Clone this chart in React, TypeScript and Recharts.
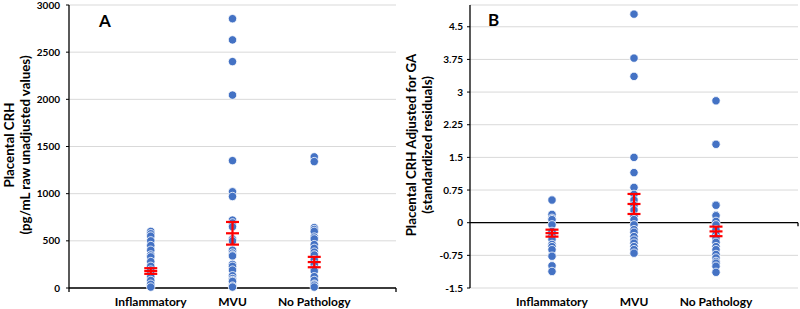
import React from "react";
import {
  ScatterChart,
  Scatter,
  XAxis,
  YAxis,
  CartesianGrid,
  ReferenceLine,
} from "recharts";

// ---- categories ----
const categories = ["Inflammatory", "MVU", "No Pathology"];

// ---- Panel A: raw placental CRH (pg/mL) ----
const inflA = [600, 575, 550, 500, 450, 400, 350, 330, 280, 230, 190, 150, 120, 80, 40, 10];
const mvuA = [2855, 2630, 2400, 2045, 1350, 1020, 970, 720, 690, 650, 520, 500, 400, 370, 350, 340, 250, 230, 190, 130, 100, 80, 70, 20, 10];
const noPathA = [1390, 1340, 640, 620, 600, 540, 520, 460, 420, 380, 350, 300, 250, 200, 180, 120, 80, 40, 30, 10];
const meansA = [180, 580, 275];
const semA = [30, 120, 55];
const ticksA = [0, 500, 1000, 1500, 2000, 2500, 3000];

// ---- Panel B: standardized residuals ----
const inflB = [0.52, 0.19, 0.1, 0.07, -0.05, -0.2, -0.3, -0.38, -0.5, -0.55, -0.62, -0.77, -0.99, -1.12];
const mvuB = [4.79, 3.78, 3.36, 1.5, 1.15, 0.81, 0.65, 0.52, 0.4, 0.29, 0.15, 0.07, -0.05, -0.16, -0.22, -0.32, -0.4, -0.47, -0.55, -0.62, -0.7];
const noPathB = [2.8, 1.8, 0.41, 0.4, 0.18, 0.16, 0.03, -0.05, -0.16, -0.27, -0.35, -0.45, -0.55, -0.62, -0.73, -0.81, -0.89, -0.93, -1.0, -1.14];
const meansB = [-0.24, 0.43, -0.2];
const semB = [0.08, 0.23, 0.11];
const ticksB = [-1.5, -0.75, 0, 0.75, 1.5, 2.25, 3, 3.75, 4.5];
const tickLabelsB = ["-1.5", "-0.75", "0", "0.75", "1.5", "2.25", "3", "3.75", "4.5"];

const FONT = "Lato, 'Open Sans', sans-serif";
const BLUE = "#4472C4";
const RED = "#FF0000";

const toPoints = (groups: number[][]) =>
  groups.flatMap((g, i) => g.map((v) => ({ x: i + 1, y: v })));
const toMeans = (m: number[]) => m.map((v, i) => ({ x: i + 1, y: v }));
const toBar = (m: number[], e: number[], i: number) => [
  { x: i + 1, y: m[i] - e[i] },
  { x: i + 1, y: m[i] + e[i] },
];

const Dot = (props: any) => {
  const { cx, cy } = props;
  if (cx == null || cy == null) return null;
  return <circle cx={cx} cy={cy} r={4.2} fill={BLUE} stroke="#ffffff" strokeWidth={0.8} />;
};

const Cap = (props: any) => {
  const { cx, cy } = props;
  if (cx == null || cy == null) return null;
  return <line x1={cx - 6.5} x2={cx + 6.5} y1={cy} y2={cy} stroke={RED} strokeWidth={2.2} />;
};

const makeXTick = (withEndTicks: boolean) => (props: any) => {
  const { x, y, payload } = props;
  const v = payload.value;
  if (v === 0 || v === 4) {
    if (!withEndTicks) return <g />;
    return <line x1={x} x2={x} y1={y} y2={y + 4} stroke="#000" strokeWidth={1.3} />;
  }
  return (
    <text x={x} y={y + 18} textAnchor="middle" fontFamily={FONT} fontWeight="bold" fontSize={12} fill="#000">
      {categories[v - 1]}
    </text>
  );
};

const yTickStyle = { fontFamily: FONT, fontWeight: "bold" as const, fontSize: 10, fill: "#000" };

const renderBars = (m: number[], e: number[]) => [
  ...[0, 1, 2].map((i) => (
    <Scatter
      key={"bar" + i}
      data={toBar(m, e, i)}
      shape={Cap}
      line={{ stroke: RED, strokeWidth: 2.2 }}
      lineType="joint"
      isAnimationActive={false}
    />
  )),
  <Scatter key="mean" data={toMeans(m)} shape={Cap} isAnimationActive={false} />,
];

function PanelA() {
  const pts = toPoints([inflA, mvuA, noPathA]);
  return (
    <ScatterChart width={400} height={309} margin={{ top: 5, right: 4, bottom: 0, left: 0 }}>
      <CartesianGrid vertical={false} stroke="#D9D9D9" strokeWidth={1} />
      <XAxis
        type="number"
        dataKey="x"
        domain={[0, 4]}
        ticks={[0, 1, 2, 3, 4]}
        height={21}
        tickSize={0}
        tickMargin={0}
        tickLine={false}
        axisLine={{ stroke: "#000", strokeWidth: 1.3 }}
        tick={makeXTick(true)}
        interval={0}
      />
      <YAxis
        type="number"
        dataKey="y"
        domain={[0, 3000]}
        ticks={ticksA}
        width={69}
        tickSize={3}
        tickMargin={6}
        axisLine={{ stroke: "#000", strokeWidth: 1.3 }}
        tickLine={{ stroke: "#000", strokeWidth: 1 }}
        tick={yTickStyle}
        interval={0}
      />
      <Scatter data={pts} shape={Dot} isAnimationActive={false} />
      {renderBars(meansA, semA)}
    </ScatterChart>
  );
}

function PanelB() {
  const pts = toPoints([inflB, mvuB, noPathB]);
  return (
    <ScatterChart width={400} height={309} margin={{ top: 5, right: 2, bottom: 0, left: 0 }}>
      <CartesianGrid vertical={false} stroke="#D9D9D9" strokeWidth={1} />
      <XAxis
        type="number"
        dataKey="x"
        domain={[0, 4]}
        ticks={[0, 1, 2, 3, 4]}
        height={21}
        tickSize={0}
        tickMargin={0}
        tickLine={false}
        axisLine={false}
        tick={makeXTick(false)}
        interval={0}
      />
      <YAxis
        type="number"
        dataKey="y"
        domain={[-1.5, 5.0]}
        ticks={ticksB}
        width={70}
        tickSize={3}
        tickMargin={4}
        axisLine={{ stroke: "#000", strokeWidth: 1.3 }}
        tickLine={{ stroke: "#000", strokeWidth: 1 }}
        tick={yTickStyle}
        tickFormatter={(v: number) => tickLabelsB[ticksB.indexOf(v)] ?? String(v)}
        interval={0}
        allowDataOverflow
      />
      <ReferenceLine y={0} stroke="#000" strokeWidth={1.3} />
      <ReferenceLine
        segment={[
          { x: 4, y: 0 },
          { x: 4, y: -0.08 },
        ]}
        stroke="#000"
        strokeWidth={1.3}
      />
      <Scatter data={pts} shape={Dot} isAnimationActive={false} />
      {renderBars(meansB, semB)}
    </ScatterChart>
  );
}

export default function App() {
  const titleStyle = { fontFamily: FONT, fontWeight: "bold" as const, fontSize: 13.3, fill: "#000" };
  return (
    <div style={{ position: "absolute", left: 0, top: 0, width: 800, height: 309, background: "#fff" }}>
      <div style={{ position: "absolute", left: 0, top: 0 }}>
        <PanelA />
      </div>
      <div style={{ position: "absolute", left: 400, top: 0 }}>
        <PanelB />
      </div>
      <svg width={800} height={309} style={{ position: "absolute", left: 0, top: 0, pointerEvents: "none" }}>
        <text x={99} y={27} fontFamily={FONT} fontWeight="bold" fontSize={17} fill="#000">A</text>
        <text x={488} y={26} fontFamily={FONT} fontWeight="bold" fontSize={17} fill="#000">B</text>
        <text transform="translate(14,145) rotate(-90)" textAnchor="middle" {...titleStyle}>Placental CRH</text>
        <text transform="translate(30,145) rotate(-90)" textAnchor="middle" {...titleStyle}>(pg/mL raw unadjusted values)</text>
        <text transform="translate(416,145) rotate(-90)" textAnchor="middle" {...titleStyle}>Placental CRH Adjusted for GA</text>
        <text transform="translate(432,145) rotate(-90)" textAnchor="middle" {...titleStyle}>(standardized residuals)</text>
      </svg>
    </div>
  );
}
